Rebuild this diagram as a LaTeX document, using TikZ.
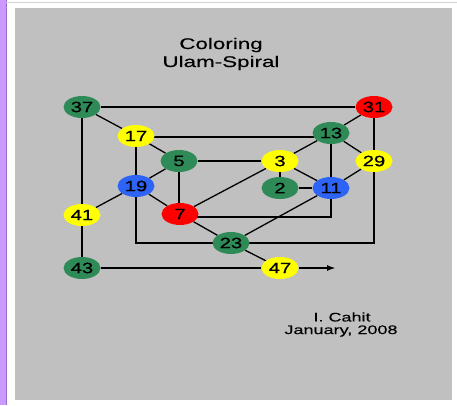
\documentclass[tikz,border=0pt]{standalone}
\usepackage{fontspec}
\setmainfont{Liberation Sans}
\newfontfamily\wf[FakeStretch=1.45,FakeBold=0.3]{Liberation Sans}
\newfontfamily\digitfont[FakeStretch=1.35,FakeBold=0.8]{Liberation Sans}
\usetikzlibrary{shapes.geometric,arrows.meta}
\pgfdeclarelayer{bg}
\pgfdeclarelayer{edges}
\pgfsetlayers{bg,edges,main}
\definecolor{purp}{RGB}{204,153,255}
\definecolor{purpd}{RGB}{150,110,200}
\definecolor{gbg}{RGB}{192,192,192}
\definecolor{ngreen}{RGB}{46,139,87}
\definecolor{nred}{RGB}{255,0,0}
\definecolor{nyel}{RGB}{255,255,0}
\definecolor{nblue}{RGB}{45,100,245}
\begin{document}
\begin{tikzpicture}[x=1bp,y=-1bp,
  vtx/.style={ellipse,inner sep=0pt,minimum width=37bp,minimum height=22bp,
    font=\digitfont\fontsize{15}{16}\selectfont,text=black},
  gn/.style={vtx,fill=ngreen},
  rd/.style={vtx,fill=nred},
  yl/.style={vtx,fill=nyel},
  bl/.style={vtx,fill=nblue},
  spiral/.style={line width=2.7bp,black},
  spiralm/.style={line width=1.9bp,black},
  link/.style={line width=1.3bp,black},
  lbl/.style={font=\wf\fontsize{15.5}{17}\selectfont,inner sep=0pt},
  auth/.style={font=\wf\fontsize{12.5}{14}\selectfont,inner sep=0pt}]
\useasboundingbox (0,0) rectangle (457,405);
\begin{pgfonlayer}{bg}
  \fill[white] (0,0) rectangle (457,405);
  \fill[purp] (0,0) rectangle (6,405);
  \draw[purpd,line width=0.8bp] (6,0) -- (6,405);
  \draw[gray!35,line width=0.6bp] (6,2.5) -- (457,2.5);
  \fill[gbg] (15,8) rectangle (452,400);
\end{pgfonlayer}
% titles
\node[lbl] (t1) at (221,45) {Coloring};
\node[lbl] (t2) at (221,63) {Ulam-Spiral};
\node[auth] (a1) at (342,317) {I. Cahit};
\node[auth] (a2) at (341,331) {January, 2008};
% vertices
\node[gn] (n37) at (82,107) {37};
\node[rd] (n31) at (374,107) {31};
\node[yl] (n17) at (136,136) {17};
\node[gn] (n13) at (331,133) {13};
\node[gn] (n5) at (179,161) {5};
\node[yl] (n3) at (280,161) {3};
\node[yl] (n29) at (374,161) {29};
\node[bl] (n19) at (136,186) {19};
\node[gn] (n2) at (280,188) {2};
\node[bl] (n11) at (331,188) {11};
\node[yl] (n41) at (82,215) {41};
\node[rd] (n7) at (180,214) {7};
\node[gn] (n23) at (231,243) {23};
\node[gn] (n43) at (82,268) {43};
\node[yl] (n47) at (280,268) {47};
\coordinate (arrowend) at (336,268);
\begin{pgfonlayer}{edges}
  % spiral
  \draw[spiral] (n2) -- (n3);
  \draw[spiral] (n3) -- (n5);
  \draw[spiral] (n5.center) -- (n5.center |- n7.center);
  \draw[spiral] ([yshift=-3bp]n7.center) -| (n11);
  \draw[spiral] (n11) -- (n13);
  \draw[spiral] ([yshift=-1bp]n17.center) -- ([yshift=-1bp]n17.center -| n13.center);
  \draw[spiral] (n17) -- (n19);
  \draw[spiral] (n19) |- (n23.center) -| (n29);
  \draw[spiral] (n29) -- (n31);
  \draw[spiral] (n31) -- (n37);
  \draw[spiral] (n37) -- (n41) -- (n43);
  \draw[spiralm] (n43) -- (n47);
  \draw[spiralm,-{Latex[length=9bp,width=6bp]}] (n47) -- (arrowend);
  % links
  \draw[link] (n37) -- (n17);
  \draw[link] (n17) -- (n5);
  \draw[link] (n5) -- (n19);
  \draw[link] (n19) -- (n41);
  \draw[link] (n19) -- (n7);
  \draw[link] (n7) -- (n23);
  \draw[link] (n23) -- (n47);
  \draw[link] (n7) -- (n3);
  \draw[link] (n3) -- (n13);
  \draw[link] (n13) -- (n31);
  \draw[link] (n13) -- (n29);
  \draw[link] (n29) -- (n11);
  \draw[link] (n3) -- (n11);
  \draw[link] (n2) -- (n11);
  \draw[link] (n11) -- (n23);
\end{pgfonlayer}
\end{tikzpicture}
\end{document}
